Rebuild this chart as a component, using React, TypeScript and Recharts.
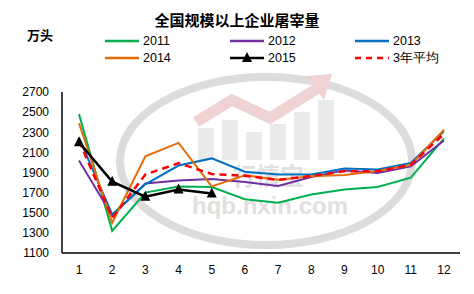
import React from 'react';
import { LineChart, Line, XAxis, YAxis, Legend } from 'recharts';

const months = [1, 2, 3, 4, 5, 6, 7, 8, 9, 10, 11, 12];
const y2011 = [2480, 1320, 1700, 1760, 1755, 1635, 1600, 1682, 1730, 1756, 1849, 2240];
const y2012 = [2020, 1470, 1790, 1820, 1836, 1805, 1767, 1855, 1921, 1895, 1961, 2218];
const y2013 = [2245, 1483, 1783, 1969, 2040, 1907, 1881, 1881, 1939, 1929, 1995, 2310];
const y2014 = [2390, 1400, 2060, 2194, 1762, 1873, 1828, 1863, 1876, 1915, 1974, 2325];
const y2015 = [2200, 1809, 1660, 1730, 1692];
const avg3 = [2215, 1451, 1880, 1993, 1885, 1868, 1826, 1866, 1912, 1913, 1977, 2284];
const yTicks = [1100, 1300, 1500, 1700, 1900, 2100, 2300, 2500, 2700];

const data = months.map((m, i) => ({
  month: m,
  '2011': y2011[i],
  '2012': y2012[i],
  '2013': y2013[i],
  '2014': y2014[i],
  '2015': y2015[i],
  avg: avg3[i],
}));

const legendItems = [
  { name: '2011', color: '#00b050' },
  { name: '2012', color: '#7030a0' },
  { name: '2013', color: '#0070c0' },
  { name: '2014', color: '#e46c0a' },
  { name: '2015', color: '#000000', marker: true },
  { name: '3年平均', color: '#ff0000', dashed: true },
];

const Triangle = (props: any) => {
  const { cx, cy } = props;
  if (cx == null || cy == null || props.value == null) return null;
  return <polygon points={`${cx},${cy - 6} ${cx - 5},${cy + 4} ${cx + 5},${cy + 4}`} fill="#000" />;
};

const LegendBox = () => (
  <div style={{ position: 'relative', width: 474, height: 40 }}>
    {legendItems.map((it, i) => {
      const col = i % 3;
      const row = Math.floor(i / 3);
      const x = 104 + col * 125;
      const y = row * 17;
      return (
        <div key={it.name} style={{ position: 'absolute', left: x, top: y, height: 16, display: 'flex', alignItems: 'center' }}>
          <svg width={36} height={16}>
            <line x1={1} y1={8} x2={35} y2={8} stroke={it.color} strokeWidth={2.5} strokeDasharray={it.dashed ? '6 5' : undefined} />
            {it.marker && <polygon points="18,2 13,12 23,12" fill="#000" />}
          </svg>
          <span style={{ marginLeft: 3, fontSize: 12.5, fontFamily: 'Liberation Sans, Arial, sans-serif', color: '#000' }}>{it.name}</span>
        </div>
      );
    })}
  </div>
);

// faint logo watermark behind the plot
const barTops = [128, 120, 132, 124, 112, 100];
const Watermark = () => (
  <svg width={474} height={294} style={{ position: 'absolute', left: 0, top: 0 }}>
    <ellipse cx={266} cy={161} rx={146} ry={84} fill="none" stroke="#dcdcdc" strokeWidth={8} />
    {[198, 222, 246, 270, 294, 318].map((x, i) => (
      <rect key={x} x={x} y={barTops[i]} width={16} height={160 - barTops[i]} fill="#eaeaea" />
    ))}
    <polyline points="196,122 232,100 270,118 318,88" fill="none" stroke="#efd3d3" strokeWidth={11} />
    <polygon points="306,76 332,74 324,100" fill="#efd3d3" />
    <text x={268} y={185} textAnchor="middle" fontSize={24} fontWeight="bold" fill="#e0e0e0" fontFamily="Noto Sans CJK SC">行情宝</text>
    <text x={270} y={214} textAnchor="middle" fontSize={24} fontWeight="bold" fill="#e0e0e0" fontFamily="Liberation Sans, Arial">hqb.nxin.com</text>
  </svg>
);

export default function App() {
  return (
    <div style={{ position: 'relative', width: 474, height: 294, margin: -8, background: '#fff', overflow: 'hidden' }}>
      <Watermark />
      <div style={{ position: 'absolute', left: 0, top: 9, width: 474, textAlign: 'center', fontSize: 15, fontWeight: 'bold', fontFamily: 'Noto Sans CJK SC' }}>
        全国规模以上企业屠宰量
      </div>
      <div style={{ position: 'absolute', left: 27, top: 25, fontSize: 13, fontWeight: 'bold', fontFamily: 'Noto Sans CJK SC' }}>万头</div>
      <LineChart width={474} height={294} data={data} margin={{ top: 52, right: 14, left: 0, bottom: 0 }} style={{ position: 'absolute', left: 0, top: 0 }}>
        <XAxis dataKey="month" height={41} padding={{ left: 17, right: 16 }} tickLine={false} tickSize={0} tickMargin={12} axisLine={{ stroke: '#000', strokeWidth: 1.5 }} tick={{ fill: '#000', fontSize: 12, fontFamily: 'Liberation Sans, Arial' }} />
        <YAxis width={62} domain={[1100, 2700]} ticks={yTicks} interval={0} tickLine={false} tickSize={0} tickMargin={13} axisLine={{ stroke: '#000', strokeWidth: 1.5 }} tick={{ fill: '#000', fontSize: 12, fontFamily: 'Liberation Sans, Arial' }} />
        <Legend verticalAlign="top" content={() => <LegendBox />} wrapperStyle={{ top: 33, left: 0, width: 474 }} />
        <Line dataKey="2011" stroke="#00b050" strokeWidth={2} dot={false} isAnimationActive={false} />
        <Line dataKey="2012" stroke="#7030a0" strokeWidth={2} dot={false} isAnimationActive={false} />
        <Line dataKey="2013" stroke="#0070c0" strokeWidth={2} dot={false} isAnimationActive={false} />
        <Line dataKey="2014" stroke="#e46c0a" strokeWidth={2} dot={false} isAnimationActive={false} />
        <Line dataKey="avg" stroke="#ff0000" strokeWidth={2.5} strokeDasharray="7 5" dot={false} isAnimationActive={false} />
        <Line dataKey="2015" stroke="#000" strokeWidth={2.5} dot={<Triangle />} isAnimationActive={false} />
      </LineChart>
    </div>
  );
}
